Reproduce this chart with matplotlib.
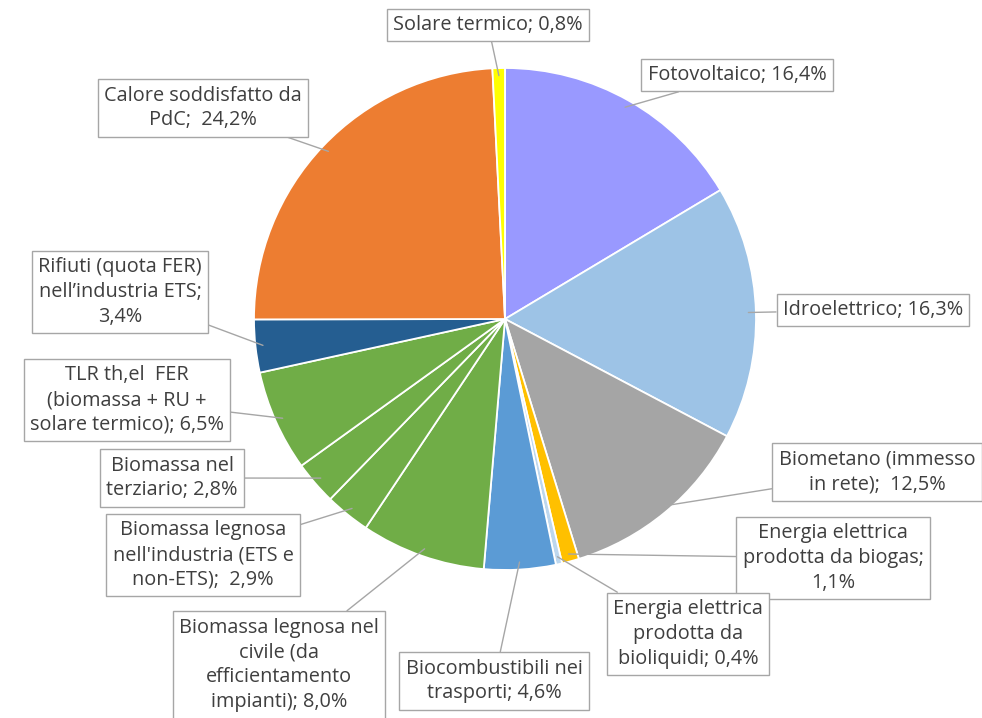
import matplotlib
matplotlib.use("Agg")
import matplotlib.pyplot as plt
import numpy as np

plt.rcParams['font.family'] = 'Open Sans'

labels = [
    "Fotovoltaico; 16,4%",
    "Idroelettrico; 16,3%",
    "Biometano (immesso\nin rete);  12,5%",
    "Energia elettrica\nprodotta da biogas;\n1,1%",
    "Energia elettrica\nprodotta da\nbioliquidi; 0,4%",
    "Biocombustibili nei\ntrasporti; 4,6%",
    "Biomassa legnosa nel\ncivile (da\nefficientamento\nimpianti); 8,0%",
    "Biomassa legnosa\nnell'industria (ETS e\nnon-ETS);  2,9%",
    "Biomassa nel\nterziario; 2,8%",
    "TLR th,el  FER\n(biomassa + RU +\nsolare termico); 6,5%",
    "Rifiuti (quota FER)\nnell\u2019industria ETS;\n3,4%",
    "Calore soddisfatto da\nPdC;  24,2%",
    "Solare termico; 0,8%",
]
values = [16.4, 16.3, 12.5, 1.1, 0.4, 4.6, 8.0, 2.9, 2.8, 6.5, 3.4, 24.2, 0.8]
colors = ["#9999FF", "#9DC3E6", "#A5A5A5", "#FFC000", "#BDD7EE", "#5B9BD5",
          "#70AD47", "#70AD47", "#70AD47", "#70AD47", "#255E91", "#ED7D31", "#FFFF00"]

# label box centres in pixel coords of the 982x718 image
label_px = [(737, 75), (873, 310), (877, 472), (833, 558), (688, 634), (494, 681),
            (279, 665), (203, 555), (172, 478), (127, 400), (120, 292), (203, 108),
            (488, 25)]

W, H = 982, 718
CX, CY, R = 505, 319, 251


def px2d(px, py):
    return (px - CX) / R, (CY - py) / R


fig = plt.figure(figsize=(W / 100, H / 100), dpi=100)
ax = fig.add_axes([0, 0, 1, 1])

wedges, _ = ax.pie(values, colors=colors, startangle=90, counterclock=False,
                   radius=1, center=(0, 0), frame=True,
                   wedgeprops=dict(edgecolor='white', linewidth=1.3))
ax.set_xlim(px2d(0, 0)[0], px2d(W, 0)[0])
ax.set_ylim(px2d(0, H)[1], px2d(0, 0)[1])
ax.set_aspect('equal')
ax.axis('off')

for w, lab, (px, py) in zip(wedges, labels, label_px):
    ang = np.deg2rad((w.theta1 + w.theta2) / 2)
    x0, y0 = 0.97 * np.cos(ang), 0.97 * np.sin(ang)
    ax.annotate(lab, xy=(x0, y0), xytext=px2d(px, py),
                ha='center', va='center', multialignment='center',
                fontsize=14.3, color='#3F3F3F', linespacing=1.33,
                bbox=dict(boxstyle='square,pad=0.32', fc='white', ec='#A6A6A6', lw=1),
                arrowprops=dict(arrowstyle='-', color='#A6A6A6', lw=1,
                                shrinkA=0, shrinkB=0))

fig.savefig("out.png", dpi=100)
